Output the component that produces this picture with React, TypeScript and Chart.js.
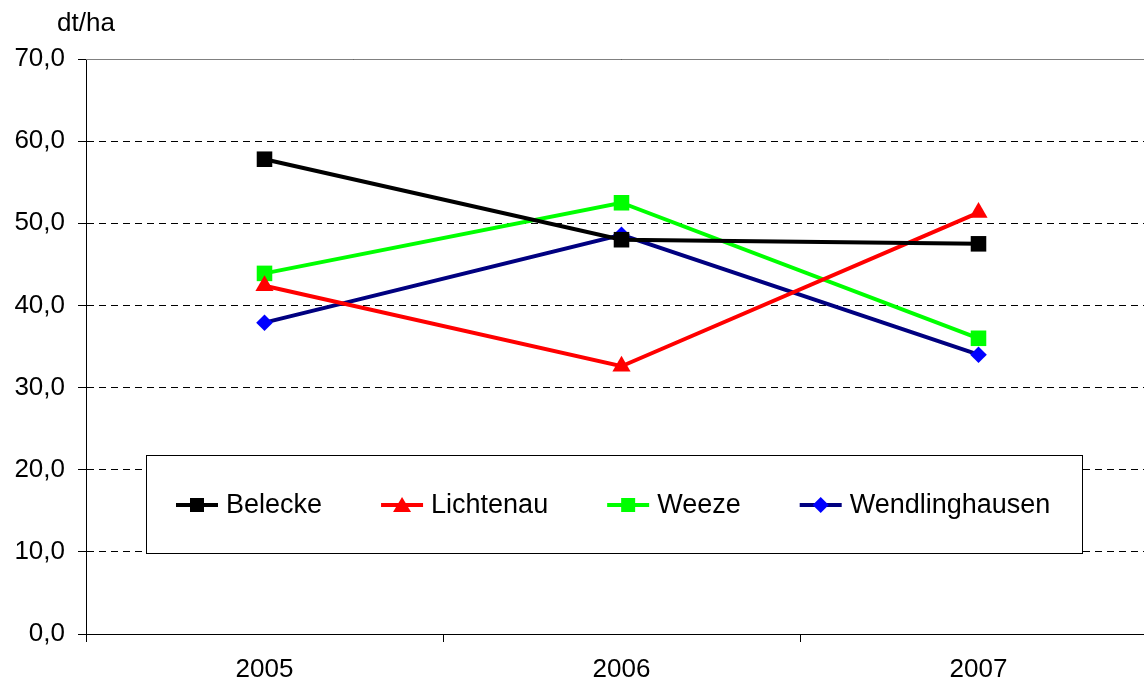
import React, { useEffect, useRef } from 'react';
import { Chart, registerables } from 'chart.js';

Chart.register(...registerables);

const years = ['2005', '2006', '2007'];
const belecke = [57.8, 48.0, 47.5];
const lichtenau = [42.4, 32.6, 51.3];
const weeze = [43.9, 52.5, 36.0];
const wendlinghausen = [37.9, 48.6, 34.0];
const seriesNames = ['Belecke', 'Lichtenau', 'Weeze', 'Wendlinghausen'];
const yMin = 0;
const yMax = 70;
const yStep = 10;
const unitLabel = 'dt/ha';

const FONT = '"Liberation Sans", Arial, sans-serif';
const FONT_SIZE = 26;
const LEGEND_FONT_SIZE = 27;

function drawMarker(ctx: CanvasRenderingContext2D, style: string, x: number, y: number, r: number, color: string) {
  ctx.fillStyle = color;
  ctx.beginPath();
  if (style === 'rect') {
    ctx.rect(x - r, y - r, 2 * r, 2 * r);
  } else if (style === 'triangle') {
    ctx.moveTo(x, y - r * 0.8);
    ctx.lineTo(x + r * 0.9, y + r * 0.7);
    ctx.lineTo(x - r * 0.9, y + r * 0.7);
    ctx.closePath();
  } else {
    ctx.moveTo(x, y - r);
    ctx.lineTo(x + r, y);
    ctx.lineTo(x, y + r);
    ctx.lineTo(x - r, y);
    ctx.closePath();
  }
  ctx.fill();
}

const extrasPlugin = {
  id: 'extras',
  beforeDatasetsDraw(chart: any) {
    const ctx: CanvasRenderingContext2D = chart.ctx;
    const area = chart.chartArea;
    ctx.save();
    // solid grey top line
    ctx.strokeStyle = '#808080';
    ctx.lineWidth = 1;
    ctx.beginPath();
    ctx.moveTo(area.left, Math.round(area.top) + 0.5);
    ctx.lineTo(area.right, Math.round(area.top) + 0.5);
    ctx.stroke();
    // legend box
    ctx.fillStyle = '#fff';
    ctx.fillRect(146.5, 455.5, 936, 98);
    ctx.strokeStyle = '#000';
    ctx.lineWidth = 1;
    ctx.strokeRect(146.5, 455.5, 936, 98);
    ctx.font = LEGEND_FONT_SIZE + 'px ' + FONT;
    ctx.textBaseline = 'middle';
    ctx.textAlign = 'left';
    let x = 176;
    const y = 505;
    chart.data.datasets.forEach((ds: any) => {
      ctx.strokeStyle = ds.borderColor;
      ctx.lineWidth = 4;
      ctx.beginPath();
      ctx.moveTo(x, y);
      ctx.lineTo(x + 42, y);
      ctx.stroke();
      const st = ds.pointStyle;
      const r = st === 'rect' ? 7 : st === 'triangle' ? 10 : 8;
      drawMarker(ctx, st, x + 21, y, r, ds.pointBackgroundColor);
      ctx.fillStyle = '#000';
      ctx.fillText(ds.label, x + 50, y + 1);
      const w = ctx.measureText(ds.label).width;
      x += 50 + w + 59;
    });
    // unit label
    ctx.font = FONT_SIZE + 'px ' + FONT;
    ctx.textAlign = 'center';
    ctx.fillStyle = '#000';
    ctx.fillText(unitLabel, area.left, 24);
    ctx.restore();
  },
};

export default function App() {
  const ref = useRef<HTMLCanvasElement | null>(null);
  useEffect(() => {
    document.body.style.margin = '0';
    const canvas = ref.current!;
    const chart = new Chart(canvas, {
      type: 'line',
      data: {
        labels: years,
        datasets: [
          {
            label: seriesNames[0],
            data: belecke,
            borderColor: '#000000',
            backgroundColor: '#000000',
            pointBackgroundColor: '#000000',
            pointBorderColor: '#000000',
            pointStyle: 'rect',
            pointRadius: 11,
            pointBorderWidth: 0,
            borderWidth: 4,
          },
          {
            label: seriesNames[1],
            data: lichtenau,
            borderColor: '#FF0000',
            backgroundColor: '#FF0000',
            pointBackgroundColor: '#FF0000',
            pointBorderColor: '#FF0000',
            pointStyle: 'triangle',
            pointRadius: 10.5,
            pointBorderWidth: 0,
            borderWidth: 4,
          },
          {
            label: seriesNames[2],
            data: weeze,
            borderColor: '#00FF00',
            backgroundColor: '#00FF00',
            pointBackgroundColor: '#00FF00',
            pointBorderColor: '#00FF00',
            pointStyle: 'rect',
            pointRadius: 11,
            pointBorderWidth: 0,
            borderWidth: 4,
          },
          {
            label: seriesNames[3],
            data: wendlinghausen,
            borderColor: '#000080',
            backgroundColor: '#0000FF',
            pointBackgroundColor: '#0000FF',
            pointBorderColor: '#0000FF',
            pointStyle: 'rectRot',
            pointRadius: 8.3,
            pointBorderWidth: 0,
            borderWidth: 4,
          },
        ],
      },
      options: {
        animation: false,
        responsive: false,
        devicePixelRatio: 1,
        layout: { padding: { top: 59, right: 0, left: 0, bottom: 0 } },
        plugins: {
          legend: { display: false },
          tooltip: { enabled: false },
          title: { display: false },
        },
        scales: {
          x: {
            type: 'category',
            offset: true,
            grid: {
              offset: true,
              drawOnChartArea: false,
              drawTicks: true,
              tickLength: 8,
              tickColor: '#000',
              color: '#000',
            },
            border: { display: true, color: '#000', width: 1 },
            ticks: {
              color: '#000',
              font: { family: FONT, size: FONT_SIZE },
              padding: 12,
              maxRotation: 0,
            },
            afterFit: (s: any) => {
              s.height = 50;
              s.paddingLeft = 0;
              s.paddingRight = 0;
            },
          },
          y: {
            type: 'linear',
            min: yMin,
            max: yMax,
            grid: {
              color: '#000',
              lineWidth: 1,
              drawTicks: true,
              tickLength: 8,
              tickColor: '#000',
            },
            border: { display: true, color: '#000', width: 1, dash: [7, 5] },
            ticks: {
              stepSize: yStep,
              color: '#000',
              font: { family: FONT, size: FONT_SIZE },
              padding: 13,
              callback: (v: any) => Number(v).toFixed(1).replace('.', ','),
            },
            afterFit: (s: any) => {
              s.width = 86;
            },
          },
        },
      },
      plugins: [extrasPlugin],
    });
    return () => chart.destroy();
  }, []);
  return (
    <div style={{ position: 'absolute', left: 0, top: 0, width: 1144, height: 684, overflow: 'hidden', background: '#fff' }}>
      <canvas ref={ref} width={1168} height={684} style={{ display: 'block' }} />
    </div>
  );
}
